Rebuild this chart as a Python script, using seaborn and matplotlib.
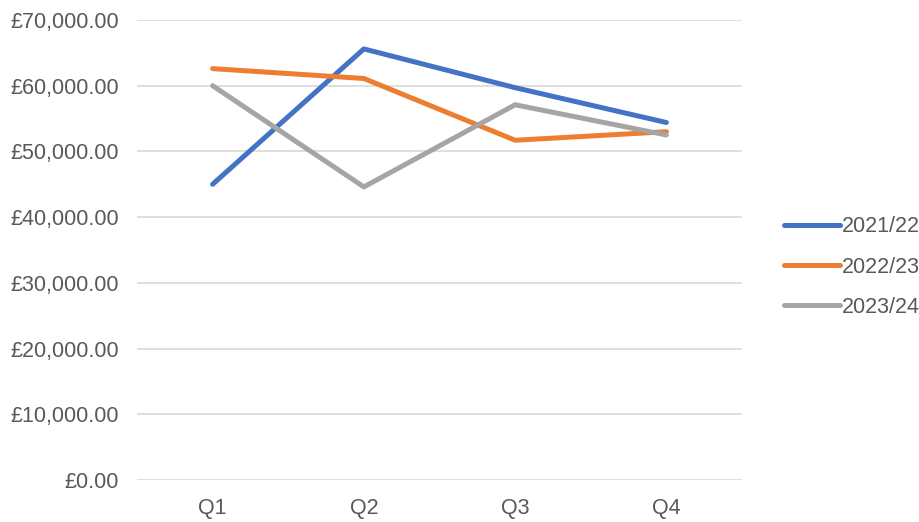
import seaborn as sns
import numpy as np
import pandas as pd
import matplotlib.pyplot as plt
import matplotlib.ticker as mtick

quarters = ['Q1', 'Q2', 'Q3', 'Q4']
fy2122 = [45000, 65600, 59700, 54400]
fy2223 = [62600, 61100, 51700, 53000]
fy2324 = [60000, 44600, 57100, 52500]
series = ['2021/22', '2022/23', '2023/24']
colors = ['#4472C4', '#ED7D31', '#A5A5A5']

rows = []
for name, vals in zip(series, [fy2122, fy2223, fy2324]):
    for q, v in zip(quarters, vals):
        rows.append([q, v, name])
df = pd.DataFrame(rows, columns=['quarter', 'value', 'year'])

sns.set_style('white')
plt.rcParams['font.family'] = ['Liberation Sans', 'DejaVu Sans']

fig = plt.figure(figsize=(9.2, 5.22), dpi=100)
ax = fig.add_axes([137/920, 1-480/522, (742-137)/920, 460/522])

sns.lineplot(data=df, x='quarter', y='value', hue='year', palette=colors,
             linewidth=3.6, ax=ax, sort=False)
for ln in ax.get_lines():
    ln.set_solid_capstyle('round')
    ln.set_solid_joinstyle('round')

ax.set_xlim(-0.5, 3.5)
ax.set_ylim(0, 70000)
ax.set_yticks(np.arange(0, 70001, 10000))
ax.yaxis.set_major_formatter(mtick.StrMethodFormatter('£{x:,.2f}'))
ax.grid(axis='y', color='#D9D9D9', linewidth=1.2)
ax.set_axisbelow(True)
for s in ax.spines.values():
    s.set_visible(False)
ax.tick_params(axis='both', length=0, labelsize=15.5, colors='#595959')
ax.tick_params(axis='y', pad=13)
ax.tick_params(axis='x', pad=13)
ax.set(xlabel='', ylabel='')

leg = ax.legend(loc='center left', bbox_to_anchor=(1.037, 0.463), frameon=False,
                fontsize=15.5, handlelength=2.6, handletextpad=0.12, labelspacing=0.9)
for t in leg.get_texts():
    t.set_color('#595959')
for h in leg.get_lines():
    h.set_linewidth(3.6)
    h.set_solid_capstyle('round')

plt.savefig('out.png', dpi=100)
